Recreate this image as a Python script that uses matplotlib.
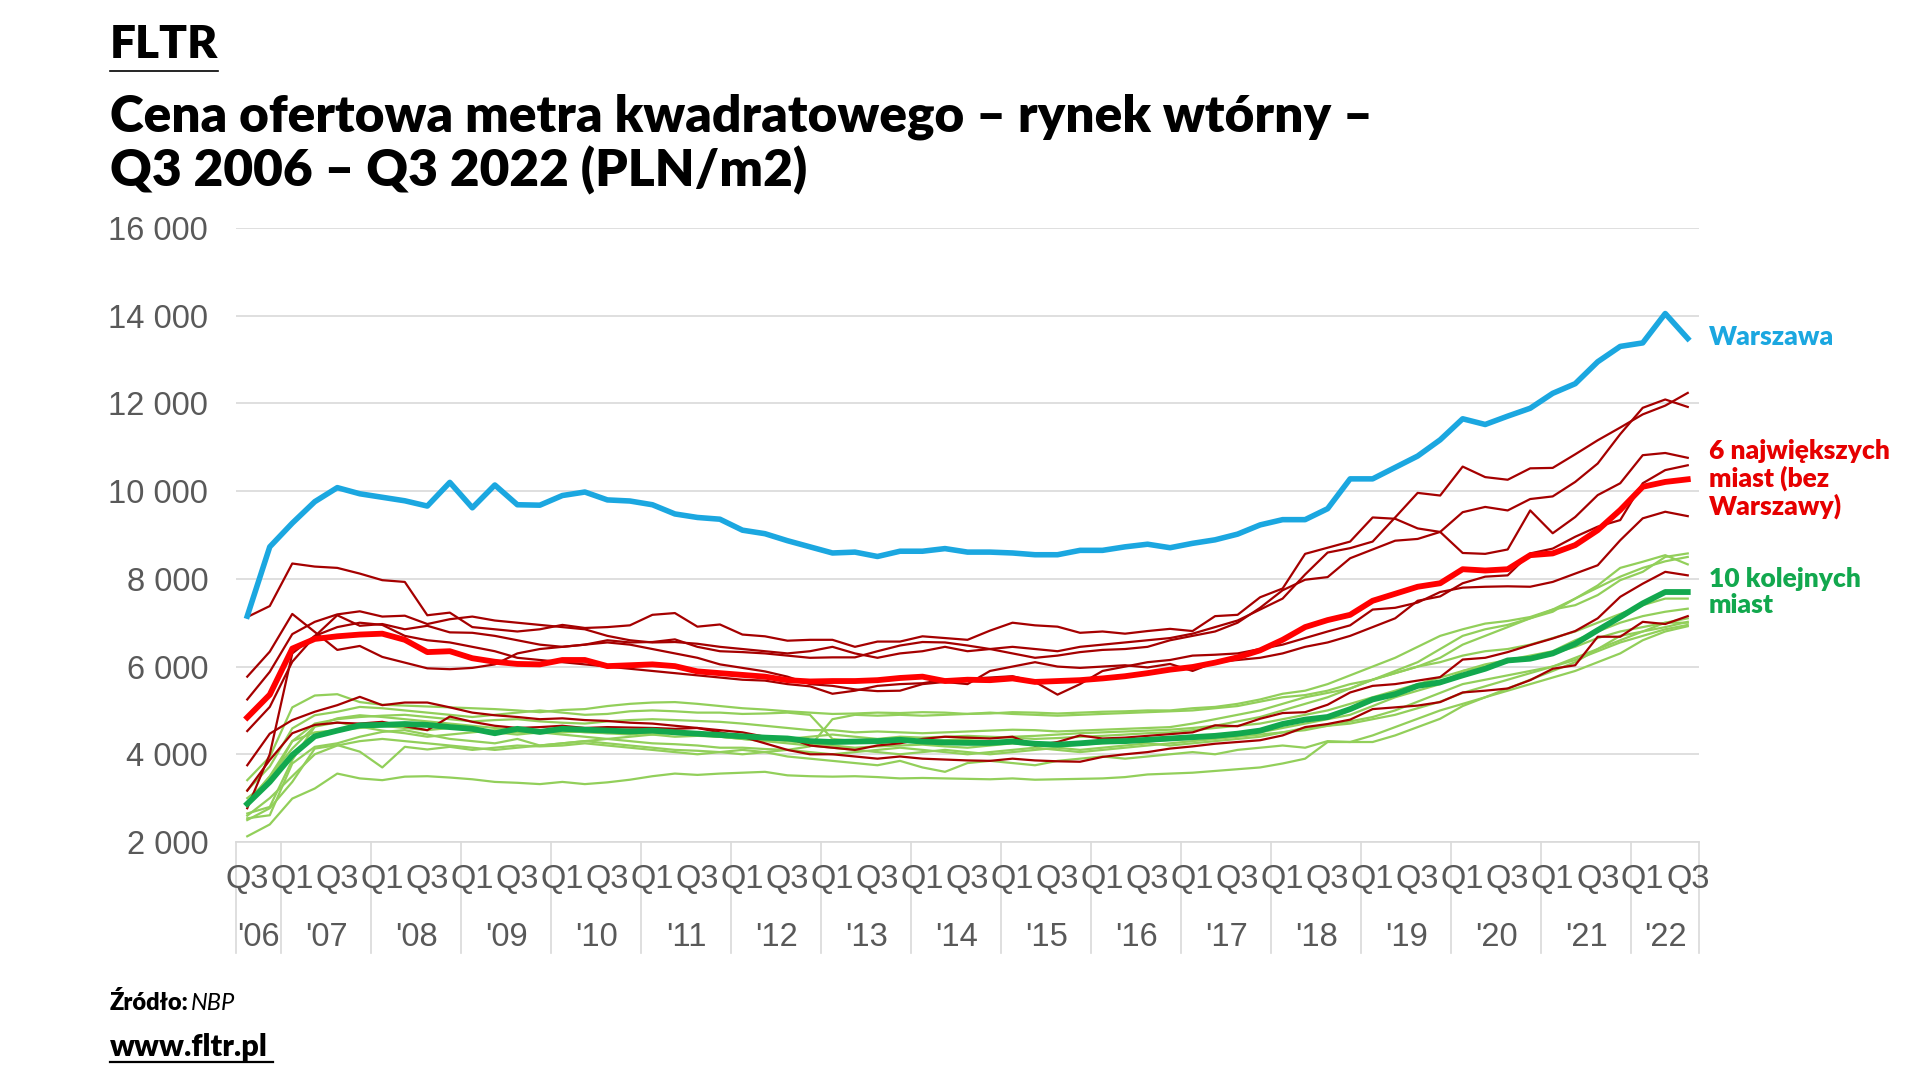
import numpy as np
import matplotlib
matplotlib.use("Agg")
import matplotlib.pyplot as plt
import matplotlib.transforms as mtransforms

# quarters Q3 2006 .. Q3 2022 (65 points)
quarters = ["Q3", "Q4"] + ["Q1", "Q2", "Q3", "Q4"] * 15 + ["Q1", "Q2", "Q3"]
years = ["'06", "'07", "'08", "'09", "'10", "'11", "'12", "'13", "'14",
         "'15", "'16", "'17", "'18", "'19", "'20", "'21", "'22"]
yticks = [2000, 4000, 6000, 8000, 10000, 12000, 14000, 16000]

warszawa = [7150, 8730,
            9270, 9760, 10080, 9940,
            9860, 9780, 9660, 10200,
            9620, 10140, 9690, 9680,
            9900, 9980, 9800, 9775,
            9690, 9480, 9400, 9360,
            9110, 9030, 8870, 8730,
            8590, 8610, 8510, 8630,
            8630, 8690, 8610, 8610,
            8590, 8550, 8550, 8650,
            8650, 8730, 8790, 8710,
            8810, 8890, 9020, 9230,
            9350, 9350, 9600, 10280,
            10280, 10540, 10800, 11170,
            11650, 11520, 11710, 11890,
            12230, 12450, 12950, 13300,
            13380, 14050, 13480]

big6_avg = [4840, 5360,
            6410, 6630, 6690, 6730,
            6750, 6610, 6330, 6350,
            6190, 6110, 6060, 6050,
            6150, 6150, 6010, 6030,
            6050, 6010, 5890, 5850,
            5810, 5770, 5690, 5660,
            5670, 5670, 5690, 5740,
            5770, 5670, 5700, 5690,
            5730, 5650, 5670, 5690,
            5730, 5780, 5850, 5930,
            5990, 6090, 6210, 6370,
            6610, 6900, 7060, 7180,
            7500, 7660, 7820, 7900,
            8220, 8190, 8220, 8540,
            8580, 8770, 9110, 9570,
            10100, 10210, 10270]

next10_avg = [2870, 3370,
              3980, 4410, 4540, 4660,
              4670, 4690, 4670, 4620,
              4580, 4480, 4580, 4510,
              4580, 4560, 4540, 4520,
              4540, 4500, 4470, 4440,
              4410, 4380, 4360, 4300,
              4280, 4290, 4300, 4330,
              4290, 4270, 4260, 4260,
              4290, 4240, 4220, 4250,
              4290, 4300, 4330, 4360,
              4390, 4420, 4470, 4540,
              4690, 4790, 4850, 5030,
              5250, 5370, 5560, 5640,
              5800, 5950, 6140, 6180,
              6300, 6520, 6830, 7130,
              7440, 7700, 7700]

# individual cities - 6 largest (thin dark red)
city_r1 = [7130, 7380, 8350, 8280, 8250, 8120, 7970, 7930, 7170, 7230,
           6900, 6850, 6800, 6850, 6950, 6880, 6900, 6940, 7180, 7220,
           6910, 6960, 6730, 6690, 6590, 6610, 6610, 6450, 6570, 6570,
           6690, 6650, 6610, 6820, 7000, 6940, 6910, 6770, 6800, 6750,
           6810, 6860, 6810, 7150, 7180, 7580, 7780, 8570, 8710, 8850,
           9400, 9370, 9150, 9070, 8590, 8570, 8670, 9560, 9040, 9410,
           9910, 10180, 10820, 10870, 10760]
city_r2 = [5250, 5880, 6740, 7020, 7190, 7260, 7140, 7160, 6970, 7080,
           7140, 7050, 7000, 6950, 6900, 6850, 6700, 6600, 6550, 6560,
           6520, 6450, 6400, 6350, 6300, 6350, 6450, 6300, 6200, 6300,
           6350, 6450, 6350, 6400, 6450, 6400, 6350, 6450, 6500, 6550,
           6600, 6650, 6750, 6900, 7050, 7300, 7550, 8100, 8600, 8700,
           8850, 9400, 9960, 9900, 10560, 10320, 10260, 10520, 10530, 10840,
           11160, 11450, 11750, 11950, 12240]
city_r3 = [5770, 6340, 7200, 6790, 6380, 6470, 6220, 6090, 5960, 5940,
           5970, 6050, 6300, 6400, 6450, 6500, 6600, 6550, 6560, 6620,
           6450, 6350, 6330, 6300, 6250, 6200, 6210, 6210, 6350, 6480,
           6560, 6550, 6480, 6400, 6300, 6200, 6250, 6330, 6380, 6400,
           6450, 6600, 6700, 6800, 7000, 7340, 7740, 7980, 8040, 8470,
           8670, 8870, 8910, 9070, 9520, 9640, 9560, 9820, 9880, 10210,
           10630, 11300, 11900, 12090, 11920]
city_r4 = [4530, 5080, 6110, 6690, 7170, 6930, 6970, 6850, 6930, 6780,
           6770, 6700, 6600, 6500, 6450, 6500, 6550, 6500, 6400, 6300,
           6200, 6050, 5970, 5890, 5770, 5600, 5560, 5480, 5440, 5450,
           5600, 5650, 5600, 5900, 6000, 6100, 6000, 5970, 6000, 6030,
           5980, 6060, 5900, 6100, 6150, 6200, 6300, 6450, 6550, 6700,
           6900, 7100, 7500, 7600, 7900, 8050, 8080, 8580, 8690, 8960,
           9190, 9340, 10180, 10480, 10590]
city_r5 = [2770, 4000, 6300, 6700, 6900, 7000, 6950, 6700, 6600, 6550,
           6450, 6350, 6200, 6150, 6100, 6050, 6000, 5950, 5900, 5850,
           5800, 5750, 5700, 5680, 5600, 5550, 5380, 5450, 5560, 5600,
           5620, 5700, 5720, 5750, 5780, 5650, 5360, 5600, 5900, 6000,
           6100, 6150, 6250, 6270, 6300, 6400, 6500, 6650, 6800, 6940,
           7300, 7340, 7460, 7700, 7800, 7820, 7830, 7820, 7930, 8120,
           8310, 8880, 9380, 9530, 9430]
city_r6 = [3170, 3870, 4480, 4670, 4720, 4700, 4740, 4640, 4550, 4860,
           4740, 4650, 4600, 4620, 4650, 4600, 4620, 4610, 4600, 4580,
           4600, 4550, 4500, 4400, 4380, 4200, 4150, 4100, 4200, 4250,
           4350, 4400, 4380, 4360, 4400, 4200, 4280, 4430, 4360, 4380,
           4420, 4460, 4500, 4660, 4640, 4810, 4940, 4960, 5130, 5410,
           5560, 5600, 5680, 5760, 6160, 6200, 6330, 6490, 6640, 6810,
           7100, 7590, 7890, 8160, 8080]
city_r7 = [3750, 4470, 4780, 4970, 5120, 5310, 5120, 5180, 5180, 5070,
           4950, 4890, 4850, 4800, 4820, 4780, 4760, 4720, 4700, 4650,
           4600, 4500, 4400, 4250, 4100, 4000, 4000, 3950, 3900, 3950,
           3900, 3880, 3860, 3850, 3900, 3860, 3840, 3830, 3940, 4000,
           4050, 4130, 4180, 4240, 4280, 4320, 4430, 4620, 4690, 4790,
           5030, 5070, 5110, 5190, 5410, 5450, 5500, 5690, 5950, 6030,
           6680, 6680, 7020, 6970, 7150]

# individual cities - 10 next (thin light green)
city_g1 = [3410, 3940, 5070, 5340, 5370, 5190, 5130, 5110, 5090, 5070,
           5050, 5030, 5000, 4960, 5010, 5030, 5100, 5150, 5180, 5190,
           5150, 5100, 5050, 5020, 4980, 4950, 4920, 4930, 4950, 4940,
           4960, 4950, 4920, 4930, 4960, 4950, 4930, 4950, 4970, 4980,
           5000, 5000, 5050, 5080, 5150, 5250, 5380, 5450, 5600, 5800,
           6000, 6200, 6450, 6700, 6850, 6980, 7040, 7130, 7300, 7400,
           7630, 7970, 8160, 8500, 8580]
city_g2 = [3180, 3720, 4590, 4890, 4970, 5080, 5050, 5000, 4950, 4900,
           4850, 4900, 4950, 5000, 4950, 4900, 4920, 4980, 5000, 4980,
           4950, 4950, 4920, 4930, 4950, 4900, 4350, 4300, 4250, 4300,
           4300, 4320, 4350, 4380, 4400, 4420, 4450, 4480, 4500, 4520,
           4540, 4560, 4600, 4650, 4750, 4850, 5000, 5150, 5300, 5500,
           5700, 5900, 6100, 6400, 6700, 6850, 6950, 7100, 7250, 7550,
           7850, 8250, 8390, 8540, 8330]
city_g3 = [2880, 3490, 4130, 4640, 4820, 4890, 4850, 4800, 4750, 4700,
           4650, 4600, 4550, 4500, 4450, 4400, 4350, 4300, 4250, 4230,
           4200, 4150, 4150, 4120, 4100, 4180, 4800, 4900, 4880, 4900,
           4880, 4900, 4920, 4950, 4920, 4900, 4880, 4900, 4920, 4940,
           4960, 4980, 5000, 5050, 5100, 5200, 5300, 5350, 5450, 5600,
           5700, 5850, 6000, 6100, 6250, 6350, 6400, 6500, 6650, 6800,
           7000, 7200, 7400, 7550, 7550]
city_g4 = [2650, 2800, 3870, 4630, 4730, 4630, 4540, 4480, 4400, 4450,
           4500, 4550, 4500, 4480, 4500, 4520, 4480, 4450, 4500, 4480,
           4450, 4400, 4380, 4350, 4300, 4250, 4200, 4150, 4180, 4200,
           4220, 4180, 4150, 4200, 4250, 4200, 4180, 4220, 4250, 4280,
           4300, 4330, 4350, 4400, 4450, 4500, 4600, 4700, 4800, 4900,
           5100, 5300, 5450, 5600, 5900, 6050, 6150, 6250, 6350, 6600,
           6800, 7000, 7150, 7250, 7320]
city_g5 = [2540, 2610, 3790, 4170, 4250, 4400, 4510, 4550, 4450, 4350,
           4300, 4250, 4350, 4200, 4250, 4300, 4350, 4400, 4450, 4500,
           4450, 4400, 4350, 4300, 4250, 4200, 4150, 4100, 4050, 4000,
           4050, 4100, 4050, 4000, 4050, 4100, 4150, 4100, 4150, 4200,
           4250, 4200, 4250, 4300, 4350, 4400, 4500, 4600, 4650, 4750,
           4850, 5000, 5200, 5400, 5600, 5700, 5800, 5900, 6000, 6200,
           6400, 6700, 6800, 7000, 7100]
city_g6 = [2500, 2770, 3370, 4130, 4210, 4060, 3700, 4170, 4110, 4170,
           4100, 4150, 4200, 4180, 4200, 4250, 4200, 4150, 4100, 4050,
           4000, 4050, 4100, 4050, 3950, 3900, 3850, 3800, 3750, 3850,
           3700, 3600, 3800, 3850, 3800, 3750, 3850, 3900, 3950, 3900,
           3950, 4000, 4050, 4000, 4100, 4150, 4200, 4150, 4300, 4280,
           4280, 4430, 4620, 4810, 5100, 5300, 5500, 5700, 5900, 6100,
           6400, 6600, 6800, 6900, 7020]
city_g7 = [2130, 2400, 2990, 3220, 3560, 3450, 3410, 3490, 3500, 3470,
           3430, 3370, 3350, 3320, 3370, 3320, 3360, 3420, 3500, 3560,
           3530, 3560, 3580, 3600, 3520, 3500, 3490, 3500, 3480, 3450,
           3460, 3450, 3440, 3430, 3450, 3420, 3430, 3440, 3450, 3480,
           3540, 3560, 3580, 3620, 3660, 3700, 3790, 3900, 4280, 4280,
           4430, 4620, 4810, 5000, 5150, 5300, 5450, 5600, 5750, 5900,
           6100, 6300, 6600, 6800, 6920]
city_g8 = [2900, 3500, 4300, 4700, 4800, 4850, 4880, 4900, 4850, 4800,
           4750, 4780, 4800, 4750, 4720, 4700, 4750, 4780, 4800, 4780,
           4760, 4740, 4700, 4650, 4600, 4550, 4550, 4500, 4520, 4500,
           4480, 4500, 4520, 4540, 4560, 4550, 4520, 4540, 4560, 4580,
           4600, 4620, 4700, 4800, 4900, 5000, 5150, 5300, 5400, 5500,
           5700, 5850, 6000, 6200, 6500, 6700, 6900, 7100, 7300, 7550,
           7800, 8050, 8250, 8400, 8500]
city_g9 = [2600, 3000, 3500, 4000, 4200, 4300, 4350, 4300, 4250, 4200,
           4150, 4100, 4150, 4200, 4250, 4300, 4250, 4200, 4150, 4100,
           4080, 4050, 4000, 4050, 4100, 4050, 4000, 4050, 4100, 4150,
           4100, 4050, 4000, 4050, 4100, 4150, 4100, 4050, 4100, 4150,
           4200, 4250, 4300, 4350, 4400, 4450, 4500, 4550, 4650, 4700,
           4800, 4900, 5050, 5200, 5400, 5550, 5700, 5850, 6000, 6150,
           6350, 6550, 6700, 6850, 6950]
city_g10 = [3000, 3400, 4300, 4500, 4550, 4600, 4650, 4600, 4550, 4600,
            4550, 4500, 4450, 4500, 4550, 4500, 4480, 4500, 4450, 4400,
            4420, 4400, 4350, 4300, 4350, 4400, 4450, 4400, 4350, 4400,
            4380, 4400, 4420, 4400, 4380, 4350, 4370, 4400, 4420, 4450,
            4480, 4500, 4550, 4600, 4650, 4700, 4800, 4900, 5000, 5150,
            5300, 5450, 5600, 5750, 5900, 6000, 6100, 6200, 6300, 6450,
            6650, 6800, 6900, 7000, 7000]

red_cities = [city_r1, city_r2, city_r3, city_r4, city_r5, city_r6, city_r7]
green_cities = [city_g1, city_g2, city_g3, city_g4, city_g5,
                city_g6, city_g7, city_g8, city_g9, city_g10]

BLUE = "#1BA7E0"
RED = "#FF0000"
DARKRED = "#A50000"
GREEN = "#12A84E"
LIGHTGREEN = "#92CF5A"
GREY = "#595959"

plt.rcParams['font.family'] = ['Liberation Sans', 'DejaVu Sans']

W, H = 1920, 1080


def fx(px):
    return px / W


def fy(px):
    return 1 - px / H


fig = plt.figure(figsize=(19.2, 10.8), dpi=100)
ax = fig.add_axes([fx(236), fy(842), (1699 - 236) / W, (842 - 228) / H])

x = np.arange(len(quarters))

for s in green_cities:
    ax.plot(x, s, color=LIGHTGREEN, lw=1.6, zorder=2)
for s in red_cities:
    ax.plot(x, s, color=DARKRED, lw=1.6, zorder=3)
ax.plot(x, next10_avg, color=GREEN, lw=4.2, zorder=4)
ax.plot(x, big6_avg, color=RED, lw=4.2, zorder=5)
ax.plot(x, warszawa, color=BLUE, lw=4.0, zorder=6)

ax.set_xlim(-0.5, len(quarters) - 0.5)
ax.set_ylim(2000, 16000)
ax.set_yticks(yticks)
ax.set_yticklabels([f"{v:,}".replace(",", " ") for v in yticks])
ax.tick_params(axis='y', length=0, pad=20, labelsize=23.5, labelcolor=GREY)
ax.grid(axis='y', color="#D9D9D9", lw=1.2)
ax.set_axisbelow(True)
for side in ["top", "right", "left"]:
    ax.spines[side].set_visible(False)
ax.spines["bottom"].set_color("#D9D9D9")
ax.spines["bottom"].set_linewidth(1.2)

# quarter labels every second quarter, year labels below
ax.set_xticks([])
trans = mtransforms.blended_transform_factory(ax.transData, ax.transAxes)
ax_h = 842 - 228
for i, q in enumerate(quarters):
    if i % 2 == 0:
        ax.text(i, -(880 - 842) / ax_h, q, transform=trans, ha="center",
                va="center", fontsize=23.5, color=GREY)

year_start = [0] + list(range(2, len(quarters), 4))
year_end = year_start[1:] + [len(quarters)]
for y_lab, s, e in zip(years, year_start, year_end):
    ax.text((s + e - 1) / 2, -(937 - 842) / ax_h, y_lab, transform=trans,
            ha="center", va="center", fontsize=23.5, color=GREY)

bounds = [s - 0.5 for s in year_start] + [len(quarters) - 0.5]
for b in bounds:
    ax.plot([b, b], [0, -(953 - 842) / ax_h], transform=trans,
            color="#D9D9D9", lw=1.2, clip_on=False)

# series labels on the right
lab_font = dict(family=["Lato", "DejaVu Sans"], fontweight="heavy", fontsize=19)
fig.text(fx(1709), fy(337), "Warszawa", color=BLUE, va="center", **lab_font)
fig.text(fx(1709), fy(479), "6 największych\nmiast (bez\nWarszawy)",
         color="#E60000", va="center", linespacing=1.1, **lab_font)
fig.text(fx(1709), fy(592), "10 kolejnych\nmiast", color=GREEN,
         va="center", linespacing=1.1, **lab_font)

# header
head_font = dict(family=["Lato", "DejaVu Sans"], fontweight="heavy", color="black")
fig.text(fx(110), fy(58), "FLTR", fontsize=33, va="baseline", **head_font)
fig.add_artist(plt.Line2D([fx(110), fx(218)], [fy(71), fy(71)],
                          color="black", lw=1.2))
fig.text(fx(110), fy(132),
         "Cena ofertowa metra kwadratowego – rynek wtórny –",
         fontsize=37, va="baseline", **head_font)
fig.text(fx(110), fy(186), "Q3 2006 – Q3 2022 (PLN/m2)",
         fontsize=37, va="baseline", **head_font)

# footer
fig.text(fx(110), fy(1003), "Źródło:", fontsize=17, va="center", **head_font)
fig.text(fx(191), fy(1003), "NBP", fontsize=17, va="center",
         family=["Lato", "DejaVu Sans"], fontstyle="italic", color="black")
fig.text(fx(110), fy(1047), "www.fltr.pl", fontsize=22, va="center",
         **head_font)
fig.add_artist(plt.Line2D([fx(110), fx(273)], [fy(1062), fy(1062)],
                          color="black", lw=1.6))

fig.savefig("out.png", dpi=100, facecolor="white")
